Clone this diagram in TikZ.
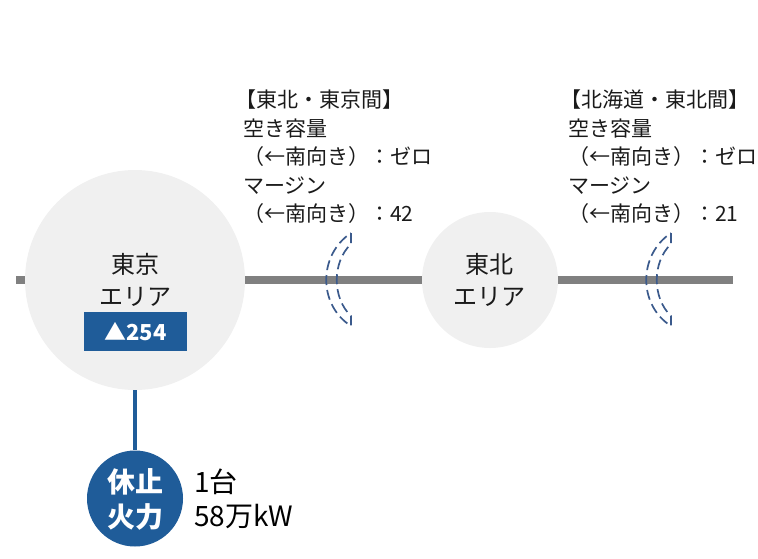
\documentclass[tikz,border=0pt]{standalone}
\usepackage{fontspec}
\newfontfamily\jp{Noto Sans CJK JP}
\definecolor{linegray}{HTML}{808080}
\definecolor{circgray}{HTML}{F0F0F0}
\definecolor{darkblue}{HTML}{1F5C99}
\definecolor{arcblue}{HTML}{3B5A8C}
\definecolor{txt}{HTML}{1A1A1A}
\tikzset{
  lbl/.style={inner sep=0pt, anchor=west, text=txt, font=\jp\fontsize{21}{24}\selectfont},
  area/.style={circle, fill=circgray, draw=none, inner sep=0pt},
  areatxt/.style={inner sep=0pt, text=txt, font=\jp\fontsize{24}{28}\selectfont},
  cutarc/.style={draw=arcblue, line width=1.7pt, dash pattern=on 10pt off 5pt},
}
\begin{document}
\begin{tikzpicture}[x=1pt,y=-1pt]
\useasboundingbox (0,0) rectangle (758,558);
% main line
\coordinate (L) at (16,280);
\coordinate (R) at (733,280);
\draw[linegray, line width=7.5pt] (L) -- (R);
% Tokyo area
\node[area, minimum size=220pt] (tokyo) at (135,280) {};
\node[areatxt] (tk1) at (135,264) {東京};
\node[areatxt] (tk2) at (135,297) {エリア};
\node[fill=darkblue, minimum width=103pt, minimum height=39pt, inner sep=0pt,
      text=white, font=\jp\bfseries\fontsize{22}{26}\selectfont] (tkval) at (135.5,331.5) {▲254};
% Tohoku area
\node[area, minimum size=136pt] (tohoku) at (490,280) {};
\node[areatxt] (th1) at (489,264) {東北};
\node[areatxt] (th2) at (489,297) {エリア};
% cut arcs
\draw[cutarc] (351,233) -- (351,244) .. controls (332,262) and (332,298) .. (351,316)
   -- (351,326) .. controls (318,305) and (318,255) .. (351,233);
\draw[cutarc] (671,233) -- (671,244) .. controls (652,262) and (652,298) .. (671,316)
   -- (671,326) .. controls (638,305) and (638,255) .. (671,233);
% idle thermal
\node[circle, fill=darkblue, minimum size=96pt, inner sep=0pt] (idle) at (135,498.5) {};
\draw[darkblue, line width=3.5pt] (tokyo.south) -- (idle.north);
\node[inner sep=0pt, text=white, font=\jp\bfseries\fontsize{28}{32}\selectfont] (i1) at (135,481.5) {休止};
\node[inner sep=0pt, text=white, font=\jp\bfseries\fontsize{28}{32}\selectfont] (i2) at (135,516.5) {火力};
\node[inner sep=0pt, anchor=west, text=black, font=\jp\fontsize{28}{32}\selectfont] (u1) at (194,482) {1台};
\node[inner sep=0pt, anchor=west, text=black, font=\jp\fontsize{28}{32}\selectfont] (u2) at (194,516) {58万kW};
% labels block 1
\node[lbl] (a1) at (235,100) {【東北・東京間】};
\node[lbl] (a2) at (243,128.5) {空き容量};
\node[lbl] (a3) at (243,157) {（←南向き）：ゼロ};
\node[lbl] (a4) at (243,185.5) {マージン};
\node[lbl] (a5) at (243,214) {（←南向き）：42};
% labels block 2
\node[lbl] (b1) at (560,100) {【北海道・東北間】};
\node[lbl] (b2) at (568,128.5) {空き容量};
\node[lbl] (b3) at (568,157) {（←南向き）：ゼロ};
\node[lbl] (b4) at (568,185.5) {マージン};
\node[lbl] (b5) at (568,214) {（←南向き）：21};
\end{tikzpicture}
\end{document}
